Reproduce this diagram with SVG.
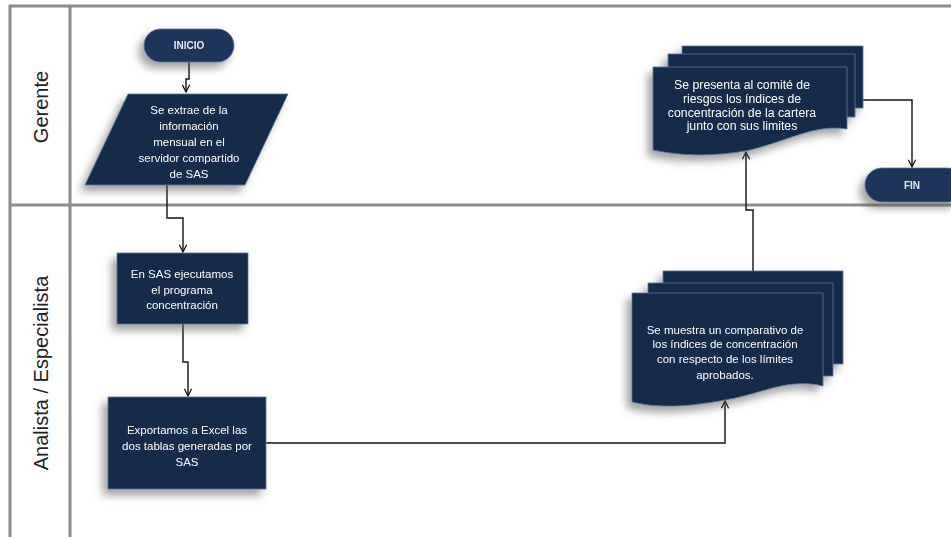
<svg xmlns="http://www.w3.org/2000/svg" width="951" height="537" viewBox="0 0 951 537">
<defs>
<filter id="sh" x="-30%" y="-30%" width="160%" height="170%">
<feDropShadow dx="-5" dy="6" stdDeviation="4" flood-color="#555" flood-opacity="0.55"/>
</filter>
<marker id="arr" viewBox="0 0 10 10" refX="9" refY="5" markerWidth="9" markerHeight="9" orient="auto" markerUnits="userSpaceOnUse">
<path d="M1,1 L9,5 L1,9" fill="none" stroke="#111" stroke-width="1.4"/>
</marker>
<style>
.lane{stroke:#8c8c8c;stroke-width:3;fill:none}
.lbl{font-family:"Liberation Sans",Arial,sans-serif;font-size:20px;fill:#222;text-anchor:middle}
.node{fill:#14294a;stroke:#5a7aa0;stroke-width:0.8}
.term{fill:#1a3558;stroke:#5a7aa0;stroke-width:0.8}
.t{font-family:"Liberation Sans",Arial,sans-serif;font-size:11.5px;fill:#ffffff;text-anchor:middle}
.tb{font-size:12.3px}
.tt{font-family:"Liberation Sans",Arial,sans-serif;font-size:10px;font-weight:bold;fill:#e6e9ee;text-anchor:middle}
.c{fill:none;stroke:#111;stroke-width:1.4}
</style>
</defs>
<rect width="951" height="537" fill="#ffffff"/>
<g id="lanes">
<path class="lane" d="M10,537 V6 H951"/>
<path class="lane" d="M70,6 V537"/>
<path class="lane" d="M10,205 H951"/>
<text class="lbl" transform="translate(48,107) rotate(-90)">Gerente</text>
<text class="lbl" transform="translate(48,373) rotate(-90)">Analista / Especialista</text>
</g>
<g id="connectors">
<path class="c" d="M189,62 V79 H186 V92" marker-end="url(#arr)"/>
<path class="c" d="M167,185 V218 H183 V252" marker-end="url(#arr)"/>
<path class="c" d="M183,324 V362 H188 V396" marker-end="url(#arr)"/>
<path class="c" d="M266,443 H725 V401" marker-end="url(#arr)"/>
<path class="c" d="M753,271 V210 H746 V152" marker-end="url(#arr)"/>
<path class="c" d="M863,100 H912 V167" marker-end="url(#arr)"/>
</g>
<g id="inicio" filter="url(#sh)">
<rect class="term" x="144" y="29" width="90" height="33" rx="16.5"/>
<text class="tt" x="189" y="49">INICIO</text>
</g>
<g id="extraer" filter="url(#sh)">
<polygon class="node" points="128,94 288,94 245,185 85,185"/>
<text class="t" x="189" y="114">Se extrae de la</text>
<text class="t" x="189" y="130">información</text>
<text class="t" x="189" y="146">mensual en el</text>
<text class="t" x="189" y="162">servidor compartido</text>
<text class="t" x="189" y="178">de SAS</text>
</g>
<g id="ejecutar" filter="url(#sh)">
<rect class="node" x="117" y="253" width="131" height="71"/>
<text class="t" x="182" y="278">En SAS ejecutamos</text>
<text class="t" x="182" y="294">el programa</text>
<text class="t" x="182" y="309">concentración</text>
</g>
<g id="exportar" filter="url(#sh)">
<rect class="node" x="108" y="397" width="158" height="92"/>
<text class="t" x="187" y="434">Exportamos a Excel las</text>
<text class="t" x="187" y="450">dos tablas generadas por</text>
<text class="t" x="187" y="466">SAS</text>
</g>
<g id="comparativo" filter="url(#sh)">
<rect class="node" x="663" y="271" width="180" height="93"/>
<rect class="node" x="648" y="283" width="185" height="93"/>
<path class="node" d="M632,293 H823 V386 C790,378 765,392 735,398 C700,405 665,410 632,402 Z"/>
<text class="t" x="725" y="334">Se muestra un comparativo de</text>
<text class="t" x="725" y="348">los índices de concentración</text>
<text class="t" x="725" y="363">con respecto de los límites</text>
<text class="t" x="725" y="379">aprobados.</text>
</g>
<g id="presenta" filter="url(#sh)">
<rect class="node" x="682" y="46" width="181" height="62"/>
<rect class="node" x="668" y="54" width="187" height="63"/>
<path class="node" d="M653,67 H847 V129 C815,124 790,140 750,150 C715,157 680,156 653,150 Z"/>
<text class="t tb" x="742" y="89">Se presenta al comité de</text>
<text class="t tb" x="742" y="103">riesgos los índices de</text>
<text class="t tb" x="742" y="117">concentración de la cartera</text>
<text class="t tb" x="742" y="130">junto con sus limites</text>
</g>
<g id="fin" filter="url(#sh)">
<rect class="term" x="865" y="168" width="100" height="34" rx="17"/>
<text class="tt" x="912" y="189">FIN</text>
</g>
</svg>
